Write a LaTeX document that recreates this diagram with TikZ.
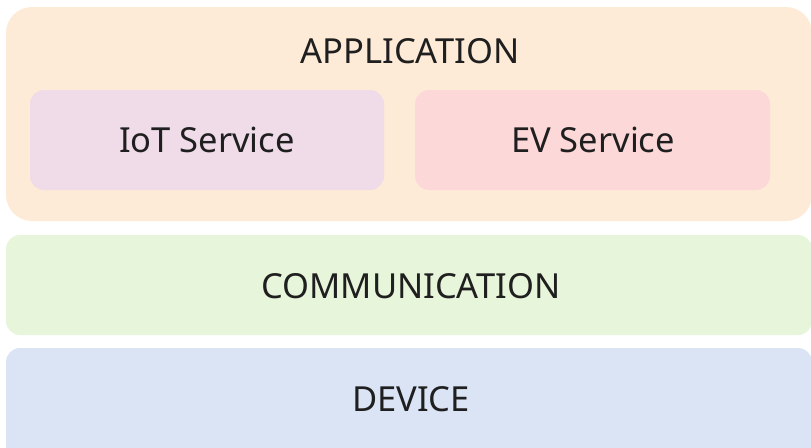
\documentclass[tikz,border=0pt]{standalone}
\usepackage{fontspec}
\setmainfont{Noto Sans}
\definecolor{appfill}{HTML}{FDEBD7}
\definecolor{iotfill}{HTML}{F0DBE9}
\definecolor{evfill}{HTML}{FDD8D8}
\definecolor{comfill}{HTML}{E7F5DA}
\definecolor{devfill}{HTML}{DAE4F5}
\begin{document}
\begin{tikzpicture}[x=1pt,y=-1pt,
  layer/.style={rounded corners=14pt},
  label/.style={font=\fontsize{34.5}{40}\selectfont, text=black!88, inner sep=0pt, anchor=base}]
\useasboundingbox (0,0) rectangle (811,447);
% application layer with its two services
\fill[appfill, rounded corners=26pt] (6,7) rectangle (812,221);
\node[label] (app) at (410,63) {APPLICATION};
\fill[iotfill, layer] (30,90) rectangle (384,190);
\node[label] (iot) at (207,152) {IoT Service};
\fill[evfill, layer] (415,90) rectangle (770,190);
\node[label] (ev) at (593,152) {EV Service};
% communication layer
\fill[comfill, layer] (6,235) rectangle (812,335);
\node[label] (com) at (411,298) {COMMUNICATION};
% device layer
\fill[devfill, layer] (6,348) rectangle (812,462);
\node[label] (dev) at (411,411) {DEVICE};
\end{tikzpicture}
\end{document}
